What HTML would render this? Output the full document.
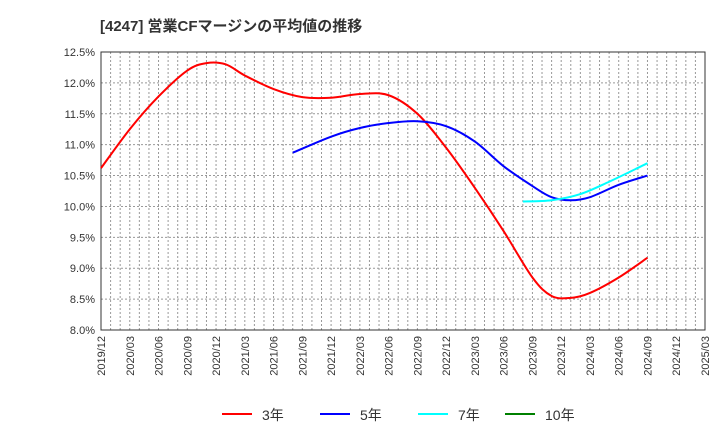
<!DOCTYPE html>
<html><head><meta charset="utf-8"><style>
body{margin:0;background:#fff;font-family:"Liberation Sans","Noto Sans CJK JP",sans-serif;}
</style></head><body>
<svg id="c" width="720" height="440" xmlns="http://www.w3.org/2000/svg">
<text x="100" y="31" font-size="15" font-weight="bold" fill="#333" font-family="Liberation Sans, Noto Sans CJK JP, sans-serif">[4247]  営業CFマージンの平均値の推移</text>
<g id="grid"></g><g id="axes"></g><g id="series"></g><g id="legend"></g>
</svg>
<script>
const xLabels=["2019/12","2020/03","2020/06","2020/09","2020/12","2021/03","2021/06","2021/09","2021/12","2022/03","2022/06","2022/09","2022/12","2023/03","2023/06","2023/09","2023/12","2024/03","2024/06","2024/09","2024/12","2025/03"];
const yTicks=[8.0,8.5,9.0,9.5,10.0,10.5,11.0,11.5,12.0,12.5];
const red3Months=[0,3,6,9,11,13,15,18,21,24,27,30,33,36,39,42,45,47,49,51,54,57];
const red3Values=[10.62,11.25,11.78,12.2,12.32,12.3,12.12,11.9,11.77,11.76,11.82,11.8,11.5,10.95,10.3,9.6,8.85,8.55,8.52,8.6,8.85,9.17];
const blue5Months=[20,24,27,30,33,36,39,42,45,47,49,51,54,57];
const blue5Values=[10.87,11.13,11.27,11.35,11.38,11.3,11.05,10.65,10.33,10.15,10.1,10.15,10.35,10.5];
const cyan7Months=[44,47,50,53,57];
const cyan7Values=[10.08,10.1,10.2,10.4,10.7];
const NS="http://www.w3.org/2000/svg";
const L=101,R=705,T=52,B=330,totalMonths=63;
const xs=m=>L+(R-L)*m/totalMonths;
const ys=v=>B-(v-8.0)/(12.5-8.0)*(B-T);
function mk(t,a,p){const e=document.createElementNS(NS,t);for(const k in a)e.setAttribute(k,a[k]);p.appendChild(e);return e;}
const grid=document.getElementById('grid'),axes=document.getElementById('axes'),ser=document.getElementById('series'),leg=document.getElementById('legend');
for(let m=1;m<totalMonths;m++){
 const g=mk('line',{x1:xs(m),x2:xs(m),y1:T,y2:B,stroke:'#999','stroke-dasharray':'2,2','stroke-width':1},grid);
 
 
}
yTicks.forEach(v=>{
 const g=mk('line',{x1:L,x2:R,y1:ys(v),y2:ys(v),stroke:'#999','stroke-dasharray':'2,2','stroke-width':1},grid);
 
 
 const t=mk('text',{x:L-6,y:ys(v)+4,'text-anchor':'end','font-size':11,fill:'#333'},axes);
 t.textContent=v.toFixed(1)+'%';
 
 
});
const fr=mk('rect',{x:L,y:T,width:R-L,height:B-T,fill:'none',stroke:'#333','stroke-width':1},axes);


xLabels.forEach((s,i)=>{
 const x=xs(i*3),y=B+6;
 const t=mk('text',{x:x+4,y:y,'text-anchor':'end','font-size':11,fill:'#333',transform:`rotate(-90 ${x+4} ${y})`},axes);
 t.textContent=s;
 
 
});
function path(ms,vs,color,name){
 const p=ms.map((m,i)=>[xs(m),ys(vs[i])]);
 let d=`M${p[0][0]},${p[0][1]}`;
 for(let i=0;i<p.length-1;i++){
  const p0=p[i-1]||p[i],p1=p[i],p2=p[i+1],p3=p[i+2]||p2;
  const c1=[p1[0]+(p2[0]-p0[0])/6,p1[1]+(p2[1]-p0[1])/6],c2=[p2[0]-(p3[0]-p1[0])/6,p2[1]-(p3[1]-p1[1])/6];
  d+=` C${c1[0]},${c1[1]} ${c2[0]},${c2[1]} ${p2[0]},${p2[1]}`;
 }
 const e=mk('path',{d:d,fill:'none',stroke:color,'stroke-width':2},ser);
 
 
}
path(red3Months,red3Values,'#ff0000','series-3y-line');
path(blue5Months,blue5Values,'#0000ff','series-5y-line');
path(cyan7Months,cyan7Values,'#00ffff','series-7y-line');
[['3年','#ff0000',222],['5年','#0000ff',320],['7年','#00ffff',418],['10年','#008000',505]].forEach(([n,c,x])=>{
 const g=mk('g',{},leg);
 
 
 mk('line',{x1:x,x2:x+30,y1:414,y2:414,stroke:c,'stroke-width':2},g);
 const t=mk('text',{x:x+40,y:420,'font-size':14,fill:'#333'},g);
 t.textContent=n;
});
</script>
</body></html>
